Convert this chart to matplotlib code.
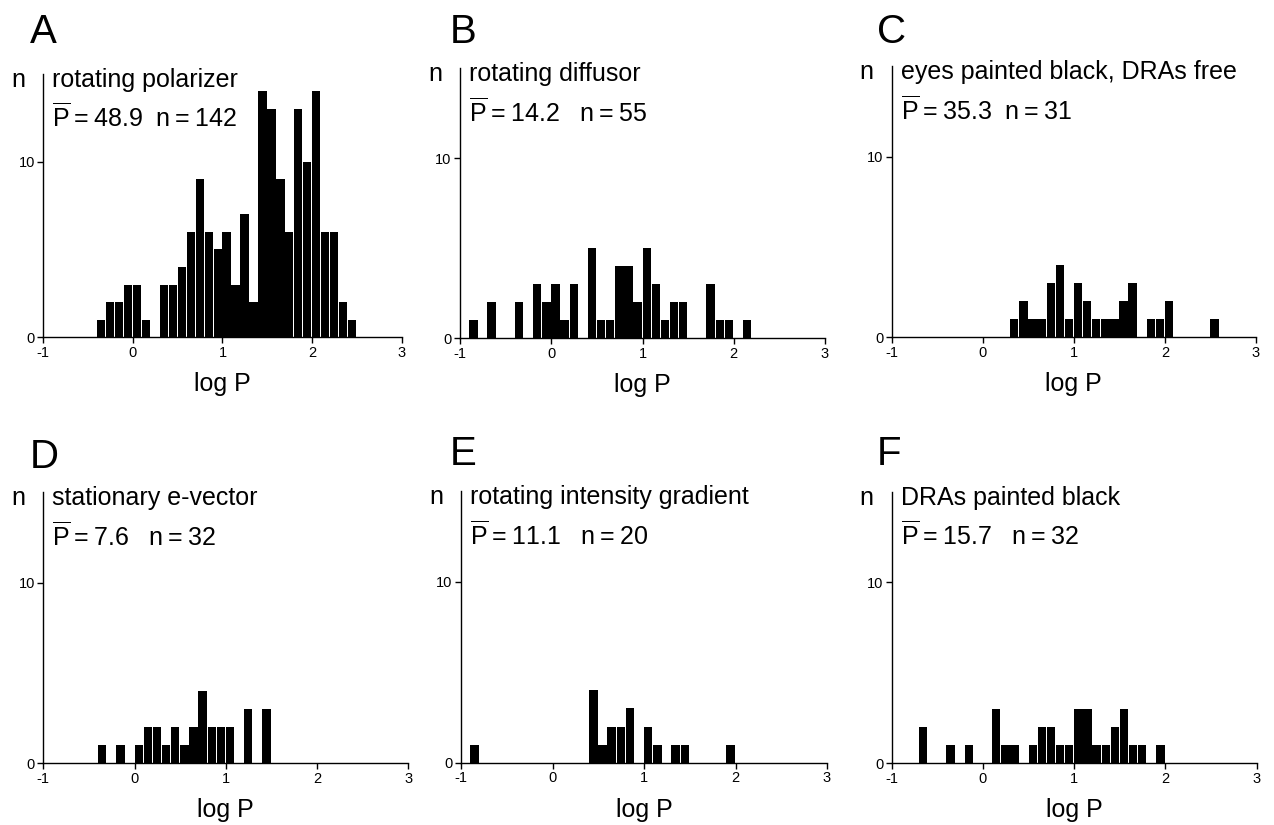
import matplotlib
matplotlib.use("Agg")
import matplotlib.pyplot as plt
import numpy as np

plt.rcParams['font.family'] = ['Liberation Sans', 'DejaVu Sans']
plt.rcParams['mathtext.fontset'] = 'custom'
plt.rcParams['mathtext.rm'] = 'Liberation Sans'
plt.rcParams['axes.unicode_minus'] = False

# histogram data: left edge of each 0.1-wide log P bin and its count (empty bins left out)
logp_a = [-0.4, -0.3, -0.2, -0.1, 0.0, 0.1, 0.3, 0.4, 0.5, 0.6, 0.7, 0.8, 0.9, 1.0,
          1.1, 1.2, 1.3, 1.4, 1.5, 1.6, 1.7, 1.8, 1.9, 2.0, 2.1, 2.2, 2.3, 2.4]
n_a = [1, 2, 2, 3, 3, 1, 3, 3, 4, 6, 9, 6, 5, 6, 3, 7, 2, 14, 13, 9, 6, 13, 10, 14, 6, 6, 2, 1]

logp_b = [-0.9, -0.7, -0.4, -0.2, -0.1, 0.0, 0.1, 0.2, 0.4, 0.5, 0.6, 0.7, 0.8, 0.9,
          1.0, 1.1, 1.2, 1.3, 1.4, 1.7, 1.8, 1.9, 2.1]
n_b = [1, 2, 2, 3, 2, 3, 1, 3, 5, 1, 1, 4, 4, 2, 5, 3, 1, 2, 2, 3, 1, 1, 1]

logp_c = [0.3, 0.4, 0.5, 0.6, 0.7, 0.8, 0.9, 1.0, 1.1, 1.2, 1.3, 1.4, 1.5, 1.6, 1.8, 1.9, 2.0, 2.5]
n_c = [1, 2, 1, 1, 3, 4, 1, 3, 2, 1, 1, 1, 2, 3, 1, 1, 2, 1]

logp_d = [-0.4, -0.2, 0.0, 0.1, 0.2, 0.3, 0.4, 0.5, 0.6, 0.7, 0.8, 0.9, 1.0, 1.2, 1.4]
n_d = [1, 1, 1, 2, 2, 1, 2, 1, 2, 4, 2, 2, 2, 3, 3]

logp_e = [-0.9, 0.4, 0.5, 0.6, 0.7, 0.8, 1.0, 1.1, 1.3, 1.4, 1.9]
n_e = [1, 4, 1, 2, 2, 3, 2, 1, 1, 1, 1]

logp_f = [-0.7, -0.4, -0.2, 0.1, 0.2, 0.3, 0.5, 0.6, 0.7, 0.8, 0.9, 1.0, 1.1, 1.2,
          1.3, 1.4, 1.5, 1.6, 1.7, 1.9]
n_f = [2, 1, 1, 3, 1, 1, 1, 2, 2, 1, 1, 3, 3, 1, 1, 2, 3, 1, 1, 1]

letters = ['A', 'B', 'C', 'D', 'E', 'F']
titles = ['rotating polarizer', 'rotating diffusor', 'eyes painted black, DRAs free',
          'stationary e-vector', 'rotating intensity gradient', 'DRAs painted black']
mean_p = ['48.9', '14.2', '35.3', '7.6', '11.1', '15.7']
n_total = ['142', '55', '31', '32', '20', '32']
gaps = ['  ', '   ', '  ', '   ', '   ', '   ']
xticks = [-1, 0, 1, 2, 3]
yticks = [0, 10]

panels = [(logp_a, n_a), (logp_b, n_b), (logp_c, n_c),
          (logp_d, n_d), (logp_e, n_e), (logp_f, n_f)]

W, H = 1274, 825
# axes boxes in pixels: left, y of zero line (from top), width, height
boxes = [(43.3, 337.3, 358.4, 263.4), (460, 338.3, 365, 270), (891.7, 337.3, 364.3, 271),
         (43.3, 763.3, 365, 271), (461, 762.7, 366, 271.5), (891.7, 763.3, 365, 271.5)]
letter_pos = [(30, 43), (450, 43), (877, 43), (30, 468), (450, 465), (877, 465)]

fig = plt.figure(figsize=(W / 100, H / 100), dpi=100)
thin = '\u2009'

for i, (x, y) in enumerate(panels):
    l, y0, w, h = boxes[i]
    ax = fig.add_axes([l / W, 1 - y0 / H, w / W, h / H])
    ax.bar(x, y, width=0.092, align='edge', color='black', linewidth=0)
    ax.set_xlim(-1, 3)
    ax.set_ylim(0, 15)
    ax.set_xticks(xticks)
    ax.set_yticks(yticks)
    ax.spines['top'].set_visible(False)
    ax.spines['right'].set_visible(False)
    ax.spines['left'].set_linewidth(1.0)
    ax.spines['bottom'].set_linewidth(1.0)
    ax.tick_params(length=4, width=1.0, labelsize=10.5, pad=2)

    ax.annotate(titles[i], xy=(0, 1), xycoords='axes fraction', xytext=(9, -13),
                textcoords='offset pixels', fontsize=18, va='baseline', ha='left')
    stat = (r'$\overline{\mathrm{P}}$' + thin + '=' + thin + mean_p[i] + gaps[i]
            + 'n' + thin + '=' + thin + n_total[i])
    ax.annotate(stat, xy=(0, 1), xycoords='axes fraction', xytext=(9, -53),
                textcoords='offset pixels', fontsize=18, va='baseline', ha='left')
    ax.annotate('n', xy=(0, 1), xycoords='axes fraction', xytext=(-25, -13),
                textcoords='offset pixels', fontsize=18, va='baseline', ha='center')
    ax.annotate('log P', xy=(0.5, 0), xycoords='axes fraction', xytext=(0, -54),
                textcoords='offset pixels', fontsize=18, va='baseline', ha='center')

    lx, ly = letter_pos[i]
    fig.text(lx / W, 1 - ly / H, letters[i], fontsize=29, ha='left', va='baseline')

fig.savefig('out.png', dpi=100)
